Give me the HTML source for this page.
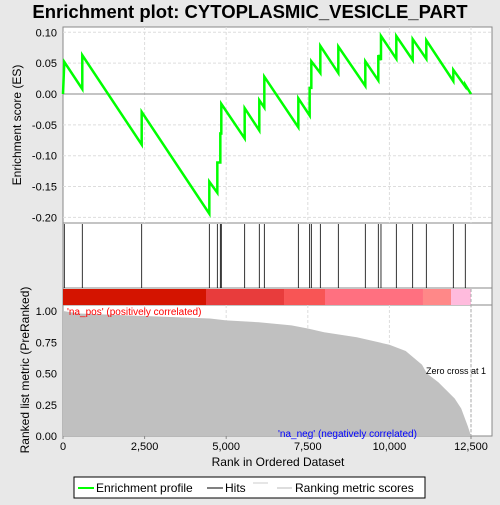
<!DOCTYPE html>
<html><head><meta charset="utf-8"><style>
body{margin:0;background:#e8e8e8;font-family:"Liberation Sans","DejaVu Sans",sans-serif}
svg text{font-family:"Liberation Sans","DejaVu Sans",sans-serif}
</style></head><body>
<svg id="c" width="500" height="500" xmlns="http://www.w3.org/2000/svg">
<rect width="500" height="500" fill="#e8e8e8"/>
<text x="250" y="18" text-anchor="middle" font-size="18.5" font-weight="bold" fill="#000">Enrichment plot: CYTOPLASMIC_VESICLE_PART</text>
<rect x="63" y="27" width="429" height="196" fill="#fff" stroke="#888"/>
<rect x="63" y="223" width="429" height="65" fill="#fff" stroke="#888"/>
<rect x="63" y="288" width="429" height="17" fill="#fff" stroke="#888"/>
<rect x="63" y="305" width="429" height="131" fill="#fff" stroke="#888"/>
<g id="grid"></g><g id="marks"></g><g id="axes"></g>
<text x="21" y="125" transform="rotate(-90 21 125)" text-anchor="middle" font-size="12">Enrichment score (ES)</text>
<text x="29" y="370" transform="rotate(-90 29 370)" text-anchor="middle" font-size="12">Ranked list metric (PreRanked)</text>
<text x="278" y="466" text-anchor="middle" font-size="12">Rank in Ordered Dataset</text>
<text x="67" y="315" font-size="10" fill="#f00">'na_pos' (positively correlated)</text>
<text x="278" y="437" font-size="10" fill="#00f">'na_neg' (negatively correlated)</text>
<text x="426" y="374" font-size="9" fill="#000">Zero cross at 1</text>
<g>
<rect x="74" y="477" width="351" height="21" fill="#fff" stroke="#000"/>
<line x1="78" y1="488" x2="94" y2="488" stroke="#0f0" stroke-width="2"/>
<text x="96" y="492" font-size="12">Enrichment profile</text>
<line x1="207" y1="488" x2="223" y2="488" stroke="#000" stroke-width="1"/>
<text x="225" y="492" font-size="12">Hits</text>
<line x1="253" y1="483" x2="268" y2="483" stroke="#ccc"/>
<line x1="277" y1="488" x2="292" y2="488" stroke="#bbb"/>
<text x="295" y="492" font-size="12">Ranking metric scores</text>
</g>
</svg>
<script>
const esRanks=[0,40,40,591,591,2411,2411,4483,4483,4728,4728,4820,4820,4850,4850,5566,5566,6014,6014,6168,6168,7210,7210,7557,7557,7608,7608,7884,7884,8435,8435,9262,9262,9660,9660,9742,9742,10212,10212,10713,10713,11131,11131,11958,11958,12325,12325,12500];
const esValues=[0,0.052,0.052,0.008,0.063,-0.082,-0.029,-0.194,-0.142,-0.160,-0.111,-0.111,-0.062,-0.066,-0.016,-0.072,-0.023,-0.059,-0.010,-0.022,0.028,-0.054,-0.007,-0.035,0.010,0.010,0.053,0.034,0.078,0.034,0.077,0.013,0.053,0.022,0.063,0.055,0.094,0.057,0.094,0.055,0.089,0.057,0.087,0.021,0.039,0.012,0.015,0];
const hitRanks=[40,591,2411,4483,4728,4820,4850,5566,6014,6168,7210,7557,7608,7884,8435,9262,9660,9742,10212,10713,11131,11958,12325];
const metricRanks=[0,500,2500,4500,5000,6000,7000,7500,8000,9000,10000,10500,11000,11150,11500,12000,12200,12400,12500];
const metricValues=[1.0,0.98,0.96,0.94,0.925,0.91,0.885,0.86,0.83,0.79,0.73,0.68,0.57,0.5,0.43,0.3,0.22,0.08,0.0];
const xTicks=[0,2500,5000,7500,10000,12500];
const xTickLabels=["0","2,500","5,000","7,500","10,000","12,500"];
const esTicks=[0.10,0.05,0,-0.05,-0.10,-0.15,-0.20];
const esTickLabels=["0.10","0.05","0.00","-0.05","-0.10","-0.15","-0.20"];
const mTicks=[1,0.75,0.5,0.25,0];
const mTickLabels=["1.00","0.75","0.50","0.25","0.00"];
const bandStarts=[0,4381,6771,8027,11029,11887];
const bandEnds=[4381,6771,8027,11029,11887,12500];
const bandColors=["#d41400","#e83c3c","#f85555","#ff7080","#ff8888","#ffbbdd"];
const zeroCross=12500;

const X=r=>63+r*0.03264;
const YE=v=>94-v*617;
const YM=v=>436-v*125;
const NS="http://www.w3.org/2000/svg";
function mk(p,t,a){const e=document.createElementNS(NS,t);for(const k in a)e.setAttribute(k,a[k]);p.appendChild(e);return e;}
const G=document.getElementById('grid'),M=document.getElementById('marks'),A=document.getElementById('axes');
xTicks.forEach((t,i)=>{
 if(t>0){const g=mk(G,'line',{x1:X(t),x2:X(t),y1:27,y2:223,stroke:'#ddd','stroke-dasharray':'3,2'});
 
 const g2=mk(G,'line',{x1:X(t),x2:X(t),y1:305,y2:436,stroke:'#ddd','stroke-dasharray':'3,2'});
 }
 const tx=mk(A,'text',{x:X(t),y:450,'text-anchor':'middle','font-size':'11'});tx.textContent=xTickLabels[i];
 
 mk(A,'line',{x1:X(t),x2:X(t),y1:436,y2:439,stroke:'#888'});
});
esTicks.forEach((t,i)=>{
 const g=mk(G,'line',{x1:63,x2:492,y1:YE(t),y2:YE(t),stroke:t===0?'#888':'#ddd','stroke-dasharray':t===0?'':'3,2'});
 
 const tx=mk(A,'text',{x:57,y:YE(t)+4,'text-anchor':'end','font-size':'11'});tx.textContent=esTickLabels[i];
 
});
mTicks.forEach((t,i)=>{
 const tx=mk(A,'text',{x:57,y:YM(t)+4,'text-anchor':'end','font-size':'11'});tx.textContent=mTickLabels[i];
 
});
bandStarts.forEach((s,i)=>{
 const r=mk(M,'rect',{x:X(s),y:289,width:X(bandEnds[i])-X(s),height:16,fill:bandColors[i]});
 
});
let d='M'+X(metricRanks[0])+','+YM(0);
metricRanks.forEach((r,i)=>{d+=' L'+X(r)+','+YM(metricValues[i]);});
d+=' L'+X(metricRanks[metricRanks.length-1])+','+YM(0)+'Z';
const ar=mk(M,'path',{d:d,fill:'#c0c0c0'});

const zl=mk(M,'line',{x1:X(zeroCross),x2:X(zeroCross),y1:289,y2:436,stroke:'#aaa','stroke-dasharray':'3,2'});

hitRanks.forEach(r=>{
 const h=mk(M,'line',{x1:X(r),x2:X(r),y1:224,y2:288,stroke:'#000','stroke-width':0.8});
 
});
const pts=esRanks.map((r,i)=>X(r)+','+YE(esValues[i])).join(' ');
const pl=mk(M,'polyline',{points:pts,fill:'none',stroke:'#00ff00','stroke-width':2.5});

</script>
</body></html>
